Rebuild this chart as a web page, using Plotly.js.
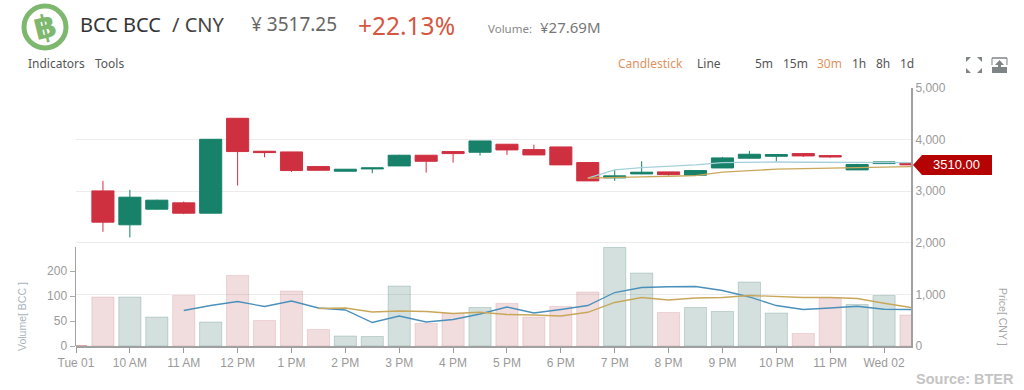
<!DOCTYPE html>
<html>
<head>
<meta charset="utf-8">
<script src="https://cdn.plot.ly/plotly-3.0.1.min.js"></script>
<style>html,body{margin:0;padding:0;background:#fff;overflow:hidden}#c{width:1024px;height:390px}</style>
</head>
<body>
<div id="c"></div>
<script>
const times = ["2017-08-01 09:00","2017-08-01 09:30","2017-08-01 10:00","2017-08-01 10:30","2017-08-01 11:00","2017-08-01 11:30","2017-08-01 12:00","2017-08-01 12:30","2017-08-01 13:00","2017-08-01 13:30","2017-08-01 14:00","2017-08-01 14:30","2017-08-01 15:00","2017-08-01 15:30","2017-08-01 16:00","2017-08-01 16:30","2017-08-01 17:00","2017-08-01 17:30","2017-08-01 18:00","2017-08-01 18:30","2017-08-01 19:00","2017-08-01 19:30","2017-08-01 20:00","2017-08-01 20:30","2017-08-01 21:00","2017-08-01 21:30","2017-08-01 22:00","2017-08-01 22:30","2017-08-01 23:00","2017-08-01 23:30","2017-08-02 00:00","2017-08-02 00:30"];
const candleTimes = times.slice(1);
const open  = [3006,2349,2652,2774,2574,4413,3774,3761,3477,3387,3432,3490,3697,3768,3755,3910,3806,3858,3555,3258,3335,3374,3310,3451,3639,3677,3729,3690,3413,3535,3555];
const close = [2400,2884,2826,2574,4006,3768,3748,3400,3406,3426,3451,3697,3580,3729,3974,3800,3703,3510,3200,3297,3368,3322,3400,3645,3716,3710,3684,3664,3516,3568,3510];
const high  = [3200,3026,2835,2800,4006,4413,3780,3761,3480,3430,3455,3705,3697,3775,3974,3910,3903,3858,3555,3413,3580,3374,3400,3664,3780,3716,3735,3696,3530,3568,3555];
const low   = [2213,2103,2645,2555,2574,3110,3658,3374,3400,3387,3348,3490,3361,3555,3690,3703,3703,3510,3200,3200,3330,3303,3310,3451,3639,3574,3665,3650,3413,3535,3510];
const maTimes = times.slice(19);
const priceMaBlue = [3252,3413,3458,3484,3510,3555,3568,3568,3561,3561,3555,3555,3555];
const priceMaTan  = [3252,3258,3277,3290,3303,3368,3400,3426,3439,3451,3451,3471,3477];
const volume = [1,98,98,58,101,48,141,51,110,33,20,19,120,45,65,77,85,58,79,108,197,146,67,77,69,128,66,25,95,83,101,62];
const volMaBlueTimes = times.slice(4);
const volMaBlue = [71,81,89,79,90,76,72,47,60,48,53,64,78,66,73,81,107,117,118.5,119,111,98,81,73,76,79.5,73.5,73];
const volMaTanTimes = times.slice(9);
const volMaTan = [75,76,68,70,69,65,67.5,63,62,60,67.5,87,97,92,96,97,101,99,97,97,95,85.5,77];
const xTickVals = ["2017-08-01 09:00","2017-08-01 10:00","2017-08-01 11:00","2017-08-01 12:00","2017-08-01 13:00","2017-08-01 14:00","2017-08-01 15:00","2017-08-01 16:00","2017-08-01 17:00","2017-08-01 18:00","2017-08-01 19:00","2017-08-01 20:00","2017-08-01 21:00","2017-08-01 22:00","2017-08-01 23:00","2017-08-02 00:00"];
const xTickText = ["Tue 01","10 AM","11 AM","12 PM","1 PM","2 PM","3 PM","4 PM","5 PM","6 PM","7 PM","8 PM","9 PM","10 PM","11 PM","Wed 02"];
const priceTicks = [0,1000,2000,3000,4000,5000];
const volTickVals = [0,50,100,150];
const volTickText = ["0","50","100","200"];
const lastPrice = 3510;

const L=76,R=911,T=88,B=346;
const px=x=>(x-L)/(R-L), py=y=>(B-y)/(B-T);
const P=(x,y)=>px(x)+','+py(y);
const path=(pts,closed=true)=>'M'+pts.map(p=>P(p[0],p[1])).join('L')+(closed?'Z':'');
const RED='#cf3040',GREEN='#178169',GRAY='#9a9a9a';
const HF='"Noto Sans","Open Sans",sans-serif';
const ann=(text,x,y,size,color,o={})=>Object.assign({text,x:px(x),y:py(y),xref:'paper',yref:'paper',xanchor:'left',yanchor:'middle',showarrow:false,borderpad:0,font:{size,color,family:HF}},o);

const barMs=22.2/26.94*1800000;
const isDown=i=>i===0||close[i-1]<open[i-1];
const volColors=volume.map((v,i)=>isDown(i)?'rgba(170,50,60,0.17)':'rgba(23,90,80,0.19)');
const volLines=volume.map((v,i)=>isDown(i)?'rgba(170,50,60,0.14)':'rgba(23,90,80,0.2)');
volColors[0]='rgba(207,48,64,0.6)';

const data=[
 {type:'candlestick',x:candleTimes,open,high,low,close,xaxis:'x',yaxis:'y',whiskerwidth:0,hoverinfo:'skip',
  increasing:{line:{color:GREEN,width:1},fillcolor:GREEN},decreasing:{line:{color:RED,width:1},fillcolor:RED}},
 {type:'scatter',mode:'lines',x:maTimes,y:priceMaBlue,xaxis:'x',yaxis:'y',line:{color:'#a5d0da',width:1.3},hoverinfo:'skip'},
 {type:'scatter',mode:'lines',x:maTimes,y:priceMaTan,xaxis:'x',yaxis:'y',line:{color:'#c9a75a',width:1.3},hoverinfo:'skip'},
 {type:'bar',x:times,y:volume,xaxis:'x',yaxis:'y2',width:barMs,cliponaxis:false,marker:{color:volColors,line:{color:volLines,width:1}},hoverinfo:'skip'},
 {type:'scatter',mode:'lines',x:volMaBlueTimes,y:volMaBlue,xaxis:'x',yaxis:'y2',line:{color:'#4a90bb',width:1.3},hoverinfo:'skip'},
 {type:'scatter',mode:'lines',x:volMaTanTimes,y:volMaTan,xaxis:'x',yaxis:'y2',line:{color:'#c9a75a',width:1.3},hoverinfo:'skip'}
];

const annotations=[
 ann('฿',45,27,31,'#7db86e',{xanchor:'center',textangle:-14,font:{size:32,color:'#7db86e',family:'"DejaVu Sans"',weight:700}}),
 ann('BCC BCC',79,24,20,'#333'),
 ann('/ CNY',171,24,20,'#444'),
 ann('¥ 3517.25',250,24,19,'#666'),
 ann('+22.13%',357,25,24.5,'#d4573f'),
 ann('Volume:',487,28,11.5,'#888'),
 ann('¥27.69M',539,27,15,'#777'),
 ann('Indicators',27,63,12,'#555'),
 ann('Tools',94,63,12,'#555'),
 ann('Candlestick',617,63,12,'#e0925f'),
 ann('Line',696,63,12,'#555'),
 ann('5m',754,63,12,'#555'),
 ann('15m',782,63,12,'#555'),
 ann('30m',816,63,12,'#e0925f'),
 ann('1h',851,63,12,'#555'),
 ann('8h',875,63,12,'#555'),
 ann('1d',899,63,12,'#555'),
 ann('Volume[ BCC ]',22,317,10.5,'#a8b4ba',{xanchor:'center',textangle:-90,font:{size:10.5,color:'#a8b4ba',family:'"Liberation Sans"'}}),
 ann('Price[ CNY ]',1003,317,10.5,'#a8a8a8',{xanchor:'center',textangle:90,font:{size:10.5,color:'#a8a8a8',family:'"Liberation Sans"'}}),
 ann('Source: BTER',915,379,14.5,'#c4c4c4',{font:{size:14.5,color:'#c4c4c4',family:'"Liberation Sans"',weight:700}}),
 {text:lastPrice.toFixed(2),x:px(957),xref:'paper',y:lastPrice,yref:'y',xanchor:'center',yanchor:'middle',showarrow:false,font:{size:13,color:'#fff',family:'"Liberation Sans"'}}
];

const iconGray='#7f8486';
const cornerArrows=[
 [[966,57],[971,57],[966,62]],[[982,57],[977,57],[982,62]],
 [[966,73],[971,73],[966,68]],[[982,73],[977,73],[982,68]]];
const shapes=[
 {type:'circle',xref:'paper',yref:'paper',x0:px(24),x1:px(66),y0:py(48),y1:py(6),line:{color:'#7db86e',width:5},fillcolor:'#fff'},
 ...cornerArrows.map(a=>({type:'path',xref:'paper',yref:'paper',path:path(a),fillcolor:iconGray,line:{width:0}})),
 {type:'path',xref:'paper',yref:'paper',path:path([[992,58],[1007,58]],false),line:{color:iconGray,width:1.5}},
 {type:'path',xref:'paper',yref:'paper',path:path([[992,58],[992,65]],false),line:{color:iconGray,width:1}},
 {type:'path',xref:'paper',yref:'paper',path:path([[1007,58],[1007,65]],false),line:{color:iconGray,width:1}},
 {type:'path',xref:'paper',yref:'paper',path:path([[992,67],[998,67],[998,65],[995,65],[999.5,60],[1004,65],[1001,65],[1001,67],[1007,67],[1007,73],[992,73]]),fillcolor:iconGray,line:{width:0}},
 {type:'path',xref:'paper',yref:'y',xsizemode:'scaled',ysizemode:'pixel',yanchor:lastPrice,
  path:'M'+px(913)+',0L'+px(922)+',10L'+px(992)+',10L'+px(992)+',-10L'+px(922)+',-10Z',fillcolor:'#b50303',line:{width:0}}
];

const layout={
 width:1024,height:390,margin:{l:L,r:1024-R,t:T,b:390-B,pad:0},
 paper_bgcolor:'#fff',plot_bgcolor:'rgba(0,0,0,0)',showlegend:false,bargap:0.18,boxgap:0.18,boxgroupgap:0,boxmode:'overlay',dragmode:false,
 font:{family:'"Liberation Sans",Arial,sans-serif',size:12,color:GRAY},
 xaxis:{type:'date',range:['2017-08-01 09:00','2017-08-02 00:30'],tickmode:'array',tickvals:xTickVals,ticktext:xTickText,ticks:'outside',ticklen:5,tickwidth:1,tickcolor:'#999',showgrid:false,showline:true,linecolor:'#a0a0a0',linewidth:1.5,rangeslider:{visible:false},tickfont:{size:12,color:GRAY},anchor:'y',zeroline:false,fixedrange:true},
 yaxis:{domain:[0,1],range:[0,5000],side:'right',anchor:'x',tickmode:'array',tickvals:priceTicks,tickformat:',d',ticks:'',showgrid:true,gridcolor:'#ececec',gridwidth:1,zeroline:false,showline:true,linecolor:'#a0a0a0',linewidth:2,tickfont:{size:12,color:GRAY},fixedrange:true},
 yaxis2:{domain:[0,99/258],range:[0,198],side:'left',anchor:'x',tickmode:'array',tickvals:volTickVals,ticktext:volTickText,ticks:'outside',ticklen:5,tickwidth:1,tickcolor:'#aaa',showgrid:false,zeroline:false,showline:true,linecolor:'#a0a0a0',linewidth:1.5,tickfont:{size:12,color:GRAY},fixedrange:true},
 annotations,shapes
};
Plotly.newPlot('c',data,layout,{displayModeBar:false,staticPlot:true});
</script>
</body>
</html>
